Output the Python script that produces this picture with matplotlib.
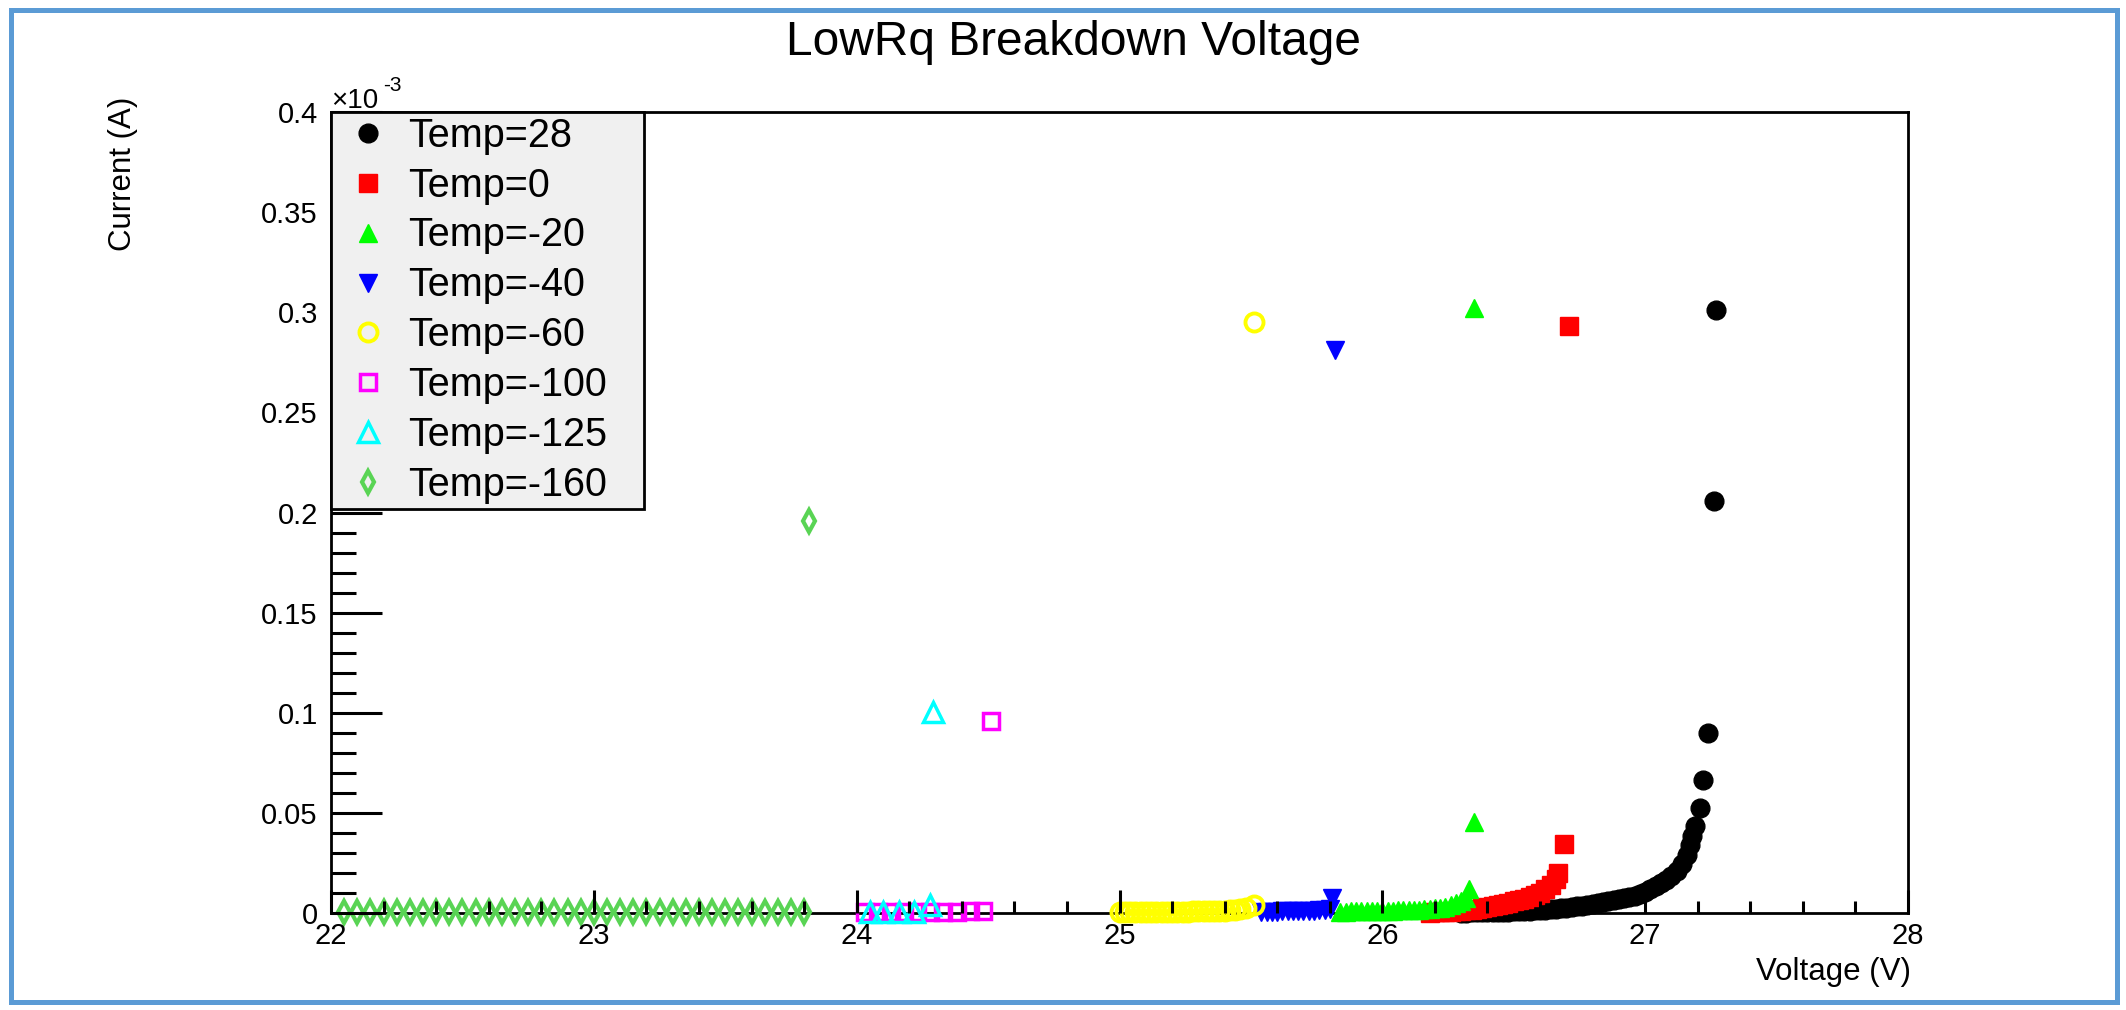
import matplotlib.pyplot as plt
from matplotlib.patches import Rectangle
from matplotlib.ticker import MultipleLocator, FuncFormatter

plt.rcParams['font.family'] = ['Liberation Sans', 'DejaVu Sans']

# --- données (courant en unités de 1e-3 A) ---
labels = ["Temp=28", "Temp=0", "Temp=-20", "Temp=-40",
          "Temp=-60", "Temp=-100", "Temp=-125", "Temp=-160"]

volt_28 = [26.30, 26.32, 26.34, 26.36, 26.38, 26.40, 26.42, 26.44, 26.46, 26.48,
           26.50, 26.52, 26.54, 26.56, 26.58, 26.60, 26.62, 26.64, 26.66, 26.68,
           26.70, 26.72, 26.74, 26.76, 26.78, 26.80, 26.82, 26.84, 26.86, 26.88,
           26.90, 26.92, 26.94, 26.96, 26.98, 27.00, 27.02, 27.04, 27.06, 27.08,
           27.10, 27.12, 27.14, 27.16, 27.17, 27.18, 27.19, 27.21, 27.22, 27.24,
           27.26, 27.27]
cur_28 = [0.0002, 0.0002, 0.0003, 0.0003, 0.0004, 0.0004, 0.0005, 0.0006, 0.0006, 0.0007,
          0.0008, 0.0009, 0.0010, 0.0012, 0.0013, 0.0015, 0.0017, 0.0019, 0.0021, 0.0024,
          0.0027, 0.0030, 0.0033, 0.0037, 0.0041, 0.0045, 0.0049, 0.0053, 0.0058, 0.0063,
          0.0068, 0.0074, 0.0080, 0.0087, 0.0095, 0.0106, 0.0120, 0.0133, 0.0148, 0.0165,
          0.0185, 0.0210, 0.0245, 0.0290, 0.0340, 0.0385, 0.0435, 0.0525, 0.0665, 0.0898,
          0.2055, 0.3010]

volt_0 = [26.18, 26.20, 26.22, 26.24, 26.26, 26.28, 26.30, 26.32, 26.34, 26.36,
          26.38, 26.40, 26.42, 26.44, 26.46, 26.48, 26.50, 26.52, 26.54, 26.56,
          26.58, 26.60, 26.62, 26.64, 26.66, 26.67, 26.69, 26.71]
cur_0 = [0.0002, 0.0003, 0.0004, 0.0005, 0.0006, 0.0008, 0.0010, 0.0013, 0.0016, 0.0020,
         0.0024, 0.0028, 0.0033, 0.0039, 0.0045, 0.0051, 0.0058, 0.0065, 0.0072, 0.0080,
         0.0090, 0.0100, 0.0118, 0.0140, 0.0170, 0.0200, 0.0347, 0.2930]

volt_m20 = [25.84, 25.86, 25.88, 25.90, 25.92, 25.94, 25.96, 25.98, 26.00, 26.02,
            26.04, 26.06, 26.08, 26.10, 26.12, 26.14, 26.16, 26.18, 26.20, 26.22,
            26.24, 26.26, 26.28, 26.30, 26.32, 26.33, 26.35, 26.35]
cur_m20 = [0.0006, 0.0007, 0.0008, 0.0008, 0.0009, 0.0009, 0.0010, 0.0010, 0.0011, 0.0011,
           0.0012, 0.0013, 0.0014, 0.0015, 0.0016, 0.0017, 0.0019, 0.0021, 0.0024, 0.0027,
           0.0032, 0.0038, 0.0048, 0.0058, 0.0075, 0.0120, 0.0455, 0.3020]

volt_m40 = [25.54, 25.56, 25.58, 25.60, 25.62, 25.64, 25.66, 25.68, 25.70, 25.72,
            25.74, 25.76, 25.78, 25.80, 25.81, 25.82]
cur_m40 = [0.0005, 0.0006, 0.0007, 0.0007, 0.0008, 0.0008, 0.0009, 0.0009, 0.0010, 0.0011,
           0.0012, 0.0014, 0.0017, 0.0020, 0.0075, 0.2810]

volt_m60 = [25.00, 25.02, 25.04, 25.06, 25.08, 25.10, 25.12, 25.14, 25.16, 25.18,
            25.20, 25.22, 25.24, 25.26, 25.28, 25.30, 25.32, 25.34, 25.36, 25.38,
            25.40, 25.42, 25.44, 25.46, 25.48, 25.51, 25.51]
cur_m60 = [0.0004, 0.0004, 0.0004, 0.0004, 0.0005, 0.0005, 0.0005, 0.0005, 0.0006, 0.0006,
           0.0006, 0.0007, 0.0007, 0.0007, 0.0008, 0.0008, 0.0009, 0.0009, 0.0010, 0.0011,
           0.0012, 0.0014, 0.0016, 0.0020, 0.0024, 0.0040, 0.2950]

volt_m100 = [24.03, 24.08, 24.13, 24.18, 24.23, 24.28, 24.33, 24.38, 24.43, 24.48, 24.51]
cur_m100 = [0.0003, 0.0003, 0.0004, 0.0004, 0.0005, 0.0005, 0.0006, 0.0007, 0.0008, 0.0010, 0.0960]

volt_m125 = [24.05, 24.10, 24.16, 24.22, 24.28, 24.29]
cur_m125 = [0.0003, 0.0004, 0.0005, 0.0007, 0.0040, 0.1005]

volt_m160 = [22.05, 22.10, 22.15, 22.20, 22.25, 22.30, 22.35, 22.40, 22.45, 22.50,
             22.55, 22.60, 22.65, 22.70, 22.75, 22.80, 22.85, 22.90, 22.95, 23.00,
             23.05, 23.10, 23.15, 23.20, 23.25, 23.30, 23.35, 23.40, 23.45, 23.50,
             23.55, 23.60, 23.65, 23.70, 23.75, 23.80, 23.82]
cur_m160 = [0.0005, 0.0005, 0.0005, 0.0005, 0.0005, 0.0005, 0.0005, 0.0005, 0.0005, 0.0005,
            0.0005, 0.0005, 0.0005, 0.0005, 0.0005, 0.0005, 0.0005, 0.0005, 0.0005, 0.0005,
            0.0005, 0.0005, 0.0005, 0.0005, 0.0005, 0.0005, 0.0005, 0.0005, 0.0005, 0.0005,
            0.0005, 0.0005, 0.0005, 0.0005, 0.0005, 0.0005, 0.1960]

# styles façon ROOT (marqueurs 20..27, couleurs 1..8)
styles = [
    dict(marker='o', color='black', ms=13.5),
    dict(marker='s', color='#ff0000', ms=12.5),
    dict(marker='^', color='#00ff00', ms=13.5),
    dict(marker='v', color='#0000ff', ms=13.5),
    dict(marker='o', color='#ffff00', ms=13, mfc='none', mew=2.8),
    dict(marker='s', color='#ff00ff', ms=12, mfc='none', mew=2.5),
    dict(marker='^', color='#00ffff', ms=14, mfc='none', mew=2.5),
    dict(marker='d', color='#59d454', ms=11, mfc='none', mew=3),
]
volts = [volt_28, volt_0, volt_m20, volt_m40, volt_m60, volt_m100, volt_m125, volt_m160]
currents = [cur_28, cur_0, cur_m20, cur_m40, cur_m60, cur_m100, cur_m125, cur_m160]

W, H = 2126, 1010
fig = plt.figure(figsize=(W / 100, H / 100), dpi=100)
ax = fig.add_axes([331 / W, 1 - 913 / H, (1908 - 331) / W, (913 - 112) / H])

for lab, v, c, st in zip(labels, volts, currents, styles):
    ax.plot(v, c, linestyle='none', clip_on=False, label=lab, **st)

ax.set_xlim(22, 28)
ax.set_ylim(0, 0.4)

ax.xaxis.set_major_locator(MultipleLocator(1))
ax.xaxis.set_minor_locator(MultipleLocator(0.2))
ax.yaxis.set_major_locator(MultipleLocator(0.05))
ax.yaxis.set_minor_locator(MultipleLocator(0.01))
fmt = FuncFormatter(lambda x, pos: "%g" % round(x, 3))
ax.xaxis.set_major_formatter(fmt)
ax.yaxis.set_major_formatter(fmt)

ax.tick_params(axis='x', which='major', direction='in', length=16.5, width=2.2,
               labelsize=21, pad=6.5, top=False)
ax.tick_params(axis='x', which='minor', direction='in', length=8.6, width=2.2, top=False)
ax.tick_params(axis='y', which='major', direction='in', length=36.7, width=2.2,
               labelsize=21, pad=9.5, right=False)
ax.tick_params(axis='y', which='minor', direction='in', length=18, width=2.2, right=False)
ax.set_axisbelow(False)
for sp in ax.spines.values():
    sp.set_linewidth(2)
    sp.set_zorder(1.5)

leg = ax.legend(loc='upper left', bbox_to_anchor=(0, 0.505, 0.1985, 0.495), mode='expand',
                fontsize=28.5, fancybox=False, edgecolor='black', facecolor='#f0f0f0',
                framealpha=1, borderpad=0.12, labelspacing=0.3, handlelength=1.62,
                handletextpad=0.2, borderaxespad=0, markerscale=1.0)
leg.get_frame().set_linewidth(2)

# textes
fig.text(1073 / W, 1 - 55 / H, "LowRq Breakdown Voltage", ha='center', va='baseline',
         fontsize=34.5)
fig.text(123 / W, 1 - 97 / H, "Current (A)", rotation=90, ha='center', va='top',
         fontsize=22.5)
fig.text(1911 / W, 1 - 980 / H, "Voltage (V)", ha='right', va='baseline', fontsize=22.5)
fig.text(331 / W, 1 - 108 / H, "×10", ha='left', va='baseline', fontsize=20)
fig.text(383 / W, 1 - 91 / H, "-3", ha='left', va='baseline', fontsize=15)

# cadre bleu autour de l'image
fig.patches.append(Rectangle((11 / W, 1 - 1002 / H), (2117 - 11) / W, (1002 - 9.5) / H,
                             transform=fig.transFigure, fill=False,
                             edgecolor='#5b9bd5', lw=3.6))

fig.savefig("out.png", dpi=100)
